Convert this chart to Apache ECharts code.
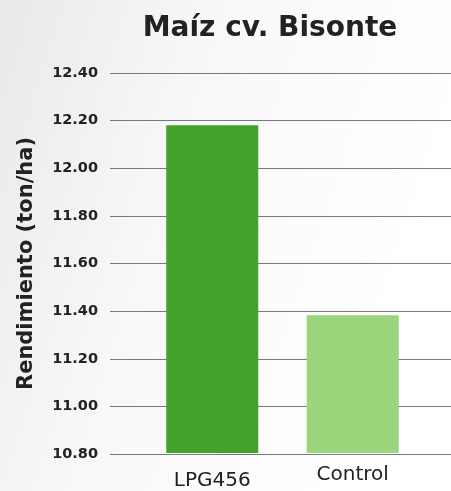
<!DOCTYPE html>
<html>
<head>
<meta charset="utf-8">
<script src="https://cdn.jsdelivr.net/npm/echarts@6/dist/echarts.min.js"></script>
<style>
html,body{margin:0;padding:0;}
#chart{width:451px;height:491px;}
</style>
</head>
<body>
<div id="chart"></div>
<script>
// datos del grafico
var categories = ['LPG456', 'Control'];
var values = [12.18, 11.38];
var barColors = ['#43a22b', '#9ad67b'];
var yTicks = [10.80, 11.00, 11.20, 11.40, 11.60, 11.80, 12.00, 12.20, 12.40];

var font = '"DejaVu Sans", sans-serif';
var yMin = yTicks[0], yMax = yTicks[yTicks.length - 1];

var chart = echarts.init(document.getElementById('chart'));
chart.setOption({
  backgroundColor: {
    type: 'linear', x: 0, y: 0, x2: 1, y2: 0.3,
    colorStops: [
      {offset: 0, color: '#e9e9e9'},
      {offset: 0.45, color: '#f8f8f8'},
      {offset: 1, color: '#ffffff'}
    ]
  },
  title: {
    text: 'Maíz cv. Bisonte',
    left: 265, top: 10, textAlign: 'center',
    textStyle: {fontFamily: font, fontSize: 28, fontWeight: 'bold', color: '#222'}
  },
  grid: [
    // lineas de fondo a todo el ancho
    {left: 110, right: 0, top: 73, bottom: 37},
    // barras
    {left: 142, right: 28, top: 73, bottom: 37}
  ],
  xAxis: [
    {gridIndex: 0, type: 'value', show: false},
    {
      gridIndex: 1, type: 'category', data: categories,
      axisLine: {show: false}, axisTick: {show: false},
      axisLabel: {
        margin: 12,
        formatter: function (v, i) { return i === 0 ? '{a|' + v + '}' : '{b|' + v + '}'; },
        rich: {
          a: {fontFamily: font, fontSize: 20, color: '#222', padding: [6, 0, 0, 0]},
          b: {fontFamily: font, fontSize: 20, color: '#222'}
        }
      }
    }
  ],
  yAxis: [
    {
      gridIndex: 0, type: 'value', min: yMin, max: yMax, interval: 0.2,
      name: 'Rendimiento (ton/ha)', nameLocation: 'middle', nameGap: 73,
      nameTextStyle: {fontFamily: font, fontSize: 21, fontWeight: 'bold', color: '#222'},
      axisLine: {show: false}, axisTick: {show: false},
      axisLabel: {
        margin: 12, fontFamily: font, fontSize: 14.5, fontWeight: 'bold', color: '#222',
        formatter: function (v) { return v.toFixed(2); }
      },
      splitLine: {lineStyle: {color: '#7a7a7a', width: 1}}
    },
    {gridIndex: 1, type: 'value', min: yMin, max: yMax, interval: 0.2, show: false, splitLine: {show: false}}
  ],
  series: [{
    type: 'bar', xAxisIndex: 1, yAxisIndex: 1,
    barWidth: 92,
    data: values.map(function (v, i) { return {value: v, itemStyle: {color: barColors[i]}}; })
  }]
});
</script>
</body>
</html>
